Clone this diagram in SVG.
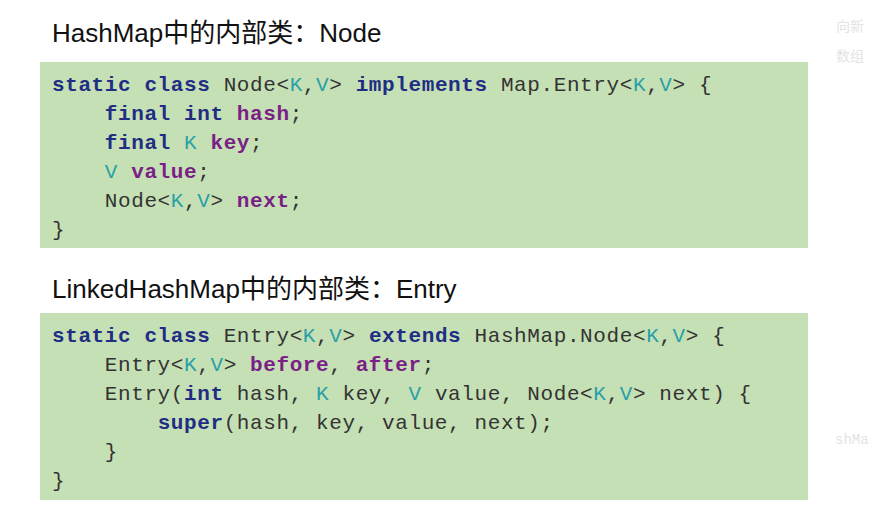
<svg xmlns="http://www.w3.org/2000/svg" width="869" height="520" viewBox="0 0 869 520">
<style>
.h{font-family:"Liberation Sans","Noto Sans CJK SC",sans-serif;font-size:26px;fill:#111}
.c{font-family:"Liberation Mono",monospace;font-size:21px;letter-spacing:0.6px;fill:#333;white-space:pre}
.k{fill:#1f2d84;font-weight:bold}
.t{fill:#2a9fa8}
.f{fill:#7a1f86;font-weight:bold}
.box{fill:#c5e0b4}
.g{font-family:"Noto Sans CJK SC",sans-serif;font-size:14px;fill:#e4e4e4}
</style>
<rect width="869" height="520" fill="#fff"/>
<text class="g" x="836" y="31">向新</text>
<text class="g" x="836" y="61">数组</text>
<text class="g" x="835" y="444" style="font-family:'Liberation Mono',monospace">shMa</text>
<g id="title1"><text class="h" x="52" y="42">HashMap中的内部类：Node</text></g>
<g id="node">
<rect class="box" x="40" y="62" width="768" height="186"/>
<text class="c" xml:space="preserve"><tspan x="52" y="91"><tspan class="k">static class</tspan> Node&lt;<tspan class="t">K</tspan>,<tspan class="t">V</tspan>&gt; <tspan class="k">implements</tspan> Map.Entry&lt;<tspan class="t">K</tspan>,<tspan class="t">V</tspan>&gt; {</tspan><tspan x="52" y="120">    <tspan class="k">final int</tspan> <tspan class="f">hash</tspan>;</tspan><tspan x="52" y="149">    <tspan class="k">final</tspan> <tspan class="t">K</tspan> <tspan class="f">key</tspan>;</tspan><tspan x="52" y="178">    <tspan class="t">V</tspan> <tspan class="f">value</tspan>;</tspan><tspan x="52" y="207">    Node&lt;<tspan class="t">K</tspan>,<tspan class="t">V</tspan>&gt; <tspan class="f">next</tspan>;</tspan><tspan x="52" y="236">}</tspan></text>
</g>
<g id="title2"><text class="h" x="52" y="298">LinkedHashMap中的内部类：Entry</text></g>
<g id="entry">
<rect class="box" x="40" y="313" width="768" height="187"/>
<text class="c" xml:space="preserve"><tspan x="52" y="342"><tspan class="k">static class</tspan> Entry&lt;<tspan class="t">K</tspan>,<tspan class="t">V</tspan>&gt; <tspan class="k">extends</tspan> HashMap.Node&lt;<tspan class="t">K</tspan>,<tspan class="t">V</tspan>&gt; {</tspan><tspan x="52" y="371">    Entry&lt;<tspan class="t">K</tspan>,<tspan class="t">V</tspan>&gt; <tspan class="f">before</tspan>, <tspan class="f">after</tspan>;</tspan><tspan x="52" y="400">    Entry(<tspan class="k">int</tspan> hash, <tspan class="t">K</tspan> key, <tspan class="t">V</tspan> value, Node&lt;<tspan class="t">K</tspan>,<tspan class="t">V</tspan>&gt; next) {</tspan><tspan x="52" y="429">        <tspan class="k">super</tspan>(hash, key, value, next);</tspan><tspan x="52" y="458">    }</tspan><tspan x="52" y="487">}</tspan></text>
</g>
<g id="connectors"/>
</svg>
